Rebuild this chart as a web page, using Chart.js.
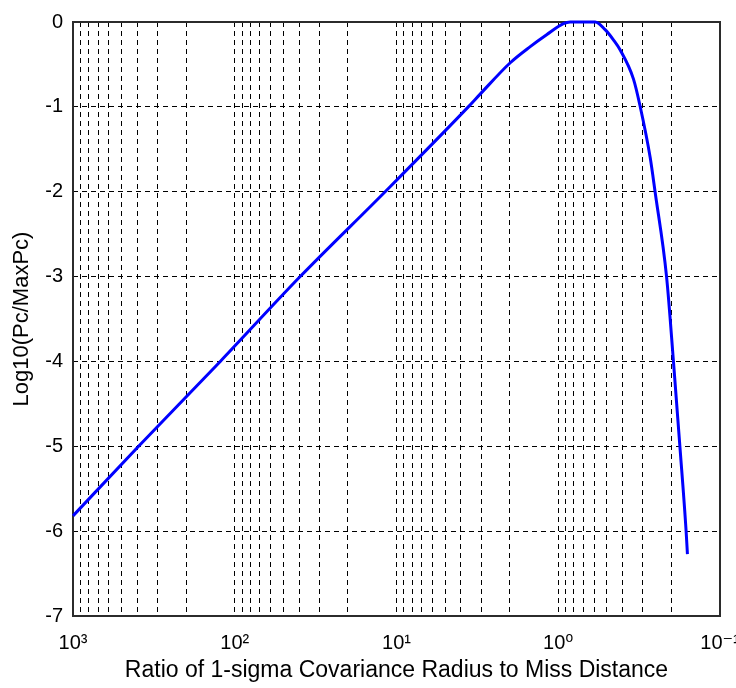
<!DOCTYPE html>
<html>
<head>
<meta charset="utf-8">
<script src="https://cdn.jsdelivr.net/npm/chart.js@4.4.1/dist/chart.umd.min.js"></script>
<style>
  html, body { margin: 0; padding: 0; background: #fff; }
  #c { display: block; }
</style>
</head>
<body>
<canvas id="c" width="736" height="688"></canvas>
<script>
// ratio of 1-sigma covariance radius to miss distance (x, log axis, reversed)
const ratio = [1000, 393, 122.9, 39.4, 11.75, 3.60, 3.04, 1.98, 1.49, 1.18, 0.929, 0.844,
  0.70, 0.591, 0.513, 0.456, 0.414, 0.343, 0.312, 0.270, 0.252, 0.214, 0.194, 0.177, 0.162, 0.159];
// log10(Pc / MaxPc)
const logPc = [-5.82, -5.0, -4.0, -3.0, -2.0, -1.0, -0.85, -0.48, -0.29, -0.15, -0.02, 0,
  0, 0, -0.09, -0.21, -0.33, -0.67, -0.99, -1.6, -2.0, -3.0, -4.0, -5.0, -6.0, -6.27];

const xDecades = [1000, 100, 10, 1, 0.1];
const yTicks = [0, -1, -2, -3, -4, -5, -6, -7];

const FONT = "'Liberation Sans', Arial, 'DejaVu Sans', sans-serif";
const SUP = { '0': '\u2070', '1': '\u00b9', '2': '\u00b2', '3': '\u00b3', '-': '\u207b' };

function decadeLabel(v) {
  const e = Math.log10(v);
  const r = Math.round(e);
  if (Math.abs(e - r) > 1e-6) return '';
  return '10' + String(r).split('').map(ch => SUP[ch] || ch).join('');
}

// box round the plot area
const frame = {
  id: 'frame',
  beforeDatasetsDraw(chart) {
    const { ctx, chartArea: a } = chart;
    ctx.save();
    ctx.strokeStyle = '#2b2b2b';
    ctx.lineWidth = 2;
    ctx.strokeRect(a.left, a.top, a.right - a.left, a.bottom - a.top);
    ctx.restore();
  }
};

new Chart(document.getElementById('c'), {
  type: 'line',
  data: {
    datasets: [{
      data: ratio.map((r, i) => ({ x: r, y: logPc[i] })),
      borderColor: '#0000ff',
      borderWidth: 3,
      pointRadius: 0,
      fill: false,
      cubicInterpolationMode: 'monotone',
      clip: false,
    }],
  },
  options: {
    responsive: false,
    animation: false,
    layout: { padding: { top: 12, right: 16, left: 0, bottom: 0 } },
    plugins: { legend: { display: false }, tooltip: { enabled: false } },
    scales: {
      x: {
        type: 'logarithmic',
        reverse: true,
        min: 0.1,
        max: 1000,
        afterBuildTicks: scale => {
          const t = [];
          xDecades.slice(1).forEach(d => {
            for (let k = 1; k <= 9; k++) t.push({ value: d * k });
          });
          t.push({ value: 1000 });
          scale.ticks = t;
        },
        afterFit: s => { s.height = 72; },
        grid: { color: '#000', lineWidth: 1, drawTicks: false },
        border: { display: false, dash: [5, 4] },
        ticks: {
          autoSkip: false,
          maxRotation: 0,
          padding: 15,
          color: '#000',
          font: { family: FONT, size: 20 },
          callback: v => decadeLabel(v),
        },
        title: {
          display: true,
          text: 'Ratio of 1-sigma Covariance Radius to Miss Distance',
          color: '#000',
          font: { family: FONT, size: 23 },
          padding: { top: 0, bottom: 4 },
        },
      },
      y: {
        min: -7,
        max: 0,
        afterBuildTicks: scale => { scale.ticks = yTicks.map(v => ({ value: v })); },
        afterFit: s => { s.width = 73; },
        grid: { color: '#000', lineWidth: 1, drawTicks: false },
        border: { display: false, dash: [5, 4] },
        ticks: {
          padding: 10,
          color: '#000',
          font: { family: FONT, size: 20 },
        },
        title: {
          display: true,
          text: 'Log10(Pc/MaxPc)',
          color: '#000',
          font: { family: FONT, size: 22 },
          padding: { top: 9, bottom: 0 },
        },
      },
    },
  },
  plugins: [frame],
});
</script>
</body>
</html>
